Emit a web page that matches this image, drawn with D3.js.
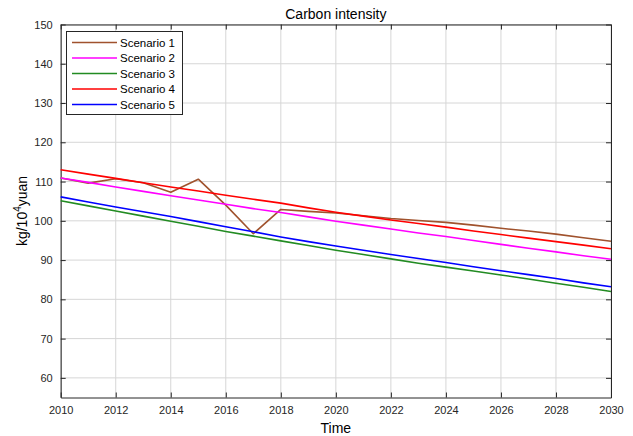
<!DOCTYPE html>
<html>
<head>
<meta charset="utf-8">
<script src="https://cdn.jsdelivr.net/npm/d3@7"></script>
<style>
  html, body { margin: 0; padding: 0; background: #fff; }
  svg { display: block; font-family: "Liberation Sans", Arial, Helvetica, sans-serif; }
</style>
</head>
<body>
<svg id="chart" width="633" height="436"></svg>
<script>
const years = [2010,2011,2012,2013,2014,2015,2016,2017,2018,2019,2020,2021,2022,2023,2024,2025,2026,2027,2028,2029,2030];
const scenario1 = [110.9,109.6,110.7,109.7,107.3,110.6,104.0,96.7,102.9,102.4,102.0,101.3,100.6,100.1,99.6,98.9,98.1,97.4,96.6,95.7,94.8];
const scenario2 = [110.9,109.8,108.6,107.5,106.4,105.3,104.2,103.1,102.1,101.0,99.9,98.9,97.9,96.9,96.0,95.0,94.0,93.0,92.1,91.1,90.2];
const scenario3 = [105.1,103.8,102.5,101.2,99.9,98.6,97.3,96.1,94.9,93.7,92.5,91.4,90.3,89.2,88.2,87.2,86.2,85.2,84.1,83.1,82.0];
const scenario4 = [113.0,111.9,110.8,109.7,108.6,107.6,106.5,105.5,104.5,103.3,102.2,101.2,100.2,99.3,98.4,97.4,96.5,95.6,94.7,93.8,92.9];
const scenario5 = [106.1,104.8,103.5,102.3,101.1,99.8,98.5,97.2,95.9,94.7,93.6,92.5,91.4,90.4,89.4,88.3,87.3,86.3,85.3,84.2,83.2];
const seriesNames = ["Scenario 1","Scenario 2","Scenario 3","Scenario 4","Scenario 5"];
const seriesColors = ["#a0522d","#ff00ff","#228b22","#ff0000","#0000ff"];
const xTicks = [2010,2012,2014,2016,2018,2020,2022,2024,2026,2028,2030];
const yTicks = [60,70,80,90,100,110,120,130,140,150];
const titleText = "Carbon intensity";
const xLabel = "Time";

const allSeries = [scenario1, scenario2, scenario3, scenario4, scenario5];

const svg = d3.select("#chart");
const L = 60.7, R = 611, T = 24.5, B = 397.5;
const x = d3.scaleLinear().domain([2010, 2030]).range([L, R]);
const y = d3.scaleLinear().domain([55, 150]).range([B, T]);
const axisColor = "#262626";
const gridColor = "#d6d6d6";

// grid
const grid = svg.append("g");
grid.selectAll("line.gx").data(xTicks).join("line")
  .attr("x1", d => x(d)).attr("x2", d => x(d)).attr("y1", T).attr("y2", B)
  .attr("stroke", gridColor).attr("stroke-width", 1);
grid.selectAll("line.gy").data(yTicks).join("line")
  .attr("x1", L).attr("x2", R).attr("y1", d => y(d)).attr("y2", d => y(d))
  .attr("stroke", gridColor).attr("stroke-width", 1);

// axes
function styleAxis(g) {
  g.select(".domain").attr("stroke", axisColor).attr("stroke-width", 1);
  g.selectAll(".tick line").attr("stroke", axisColor);
  g.selectAll(".tick text").attr("fill", axisColor).style("font-size", "11px")
    .style("font-family", '"Liberation Sans", Arial, sans-serif');
}
svg.append("g").attr("transform", `translate(0,${B})`)
  .call(d3.axisBottom(x).tickValues(xTicks).tickFormat(d3.format("d")).tickSizeInner(-5).tickSizeOuter(0).tickPadding(9))
  .call(styleAxis);
svg.append("g").attr("transform", `translate(0,${T})`)
  .call(d3.axisTop(x).tickValues(xTicks).tickFormat("").tickSizeInner(-5).tickSizeOuter(0))
  .call(styleAxis);
svg.append("g").attr("transform", `translate(${L},0)`)
  .call(d3.axisLeft(y).tickValues(yTicks).tickFormat(d3.format("d")).tickSizeInner(-5).tickSizeOuter(0).tickPadding(8))
  .call(styleAxis);
svg.append("g").attr("transform", `translate(${R},0)`)
  .call(d3.axisRight(y).tickValues(yTicks).tickFormat("").tickSizeInner(-5).tickSizeOuter(0))
  .call(styleAxis);

// lines
const line = d3.line().x((d, i) => x(years[i])).y(d => y(d));
svg.append("g").selectAll("path").data(allSeries).join("path")
  .attr("d", d => line(d))
  .attr("fill", "none")
  .attr("stroke", (d, i) => seriesColors[i])
  .attr("stroke-width", 1.6)
  .attr("stroke-linejoin", "round");

// title & labels
svg.append("text").attr("x", (L + R) / 2).attr("y", 19).attr("text-anchor", "middle")
  .style("font-size", "14px").attr("fill", "#000").text(titleText);
svg.append("text").attr("x", (L + R) / 2).attr("y", 433).attr("text-anchor", "middle")
  .style("font-size", "14px").attr("fill", "#000").text(xLabel);
const yl = svg.append("text").attr("transform", `translate(27,${(T + B) / 2}) rotate(-90)`)
  .attr("text-anchor", "middle").style("font-size", "14px").attr("fill", "#000");
yl.append("tspan").text("kg/10");
yl.append("tspan").attr("dy", -6).style("font-size", "10px").text("4");
yl.append("tspan").attr("dy", 6).text("yuan");

// legend
const lg = svg.append("g");
lg.append("rect").attr("x", 66.5).attr("y", 31.5).attr("width", 116).attr("height", 83)
  .attr("fill", "#fff").attr("stroke", axisColor).attr("stroke-width", 1);
const items = lg.selectAll("g.item").data(seriesNames).join("g")
  .attr("transform", (d, i) => `translate(0,${42.5 + i * 15.5})`);
items.append("line").attr("x1", 72).attr("x2", 117).attr("y1", 0).attr("y2", 0)
  .attr("stroke", (d, i) => seriesColors[i]).attr("stroke-width", 1.6);
items.append("text").attr("x", 120).attr("y", 4).style("font-size", "11.5px")
  .attr("fill", "#000").text(d => d);
</script>
</body>
</html>
